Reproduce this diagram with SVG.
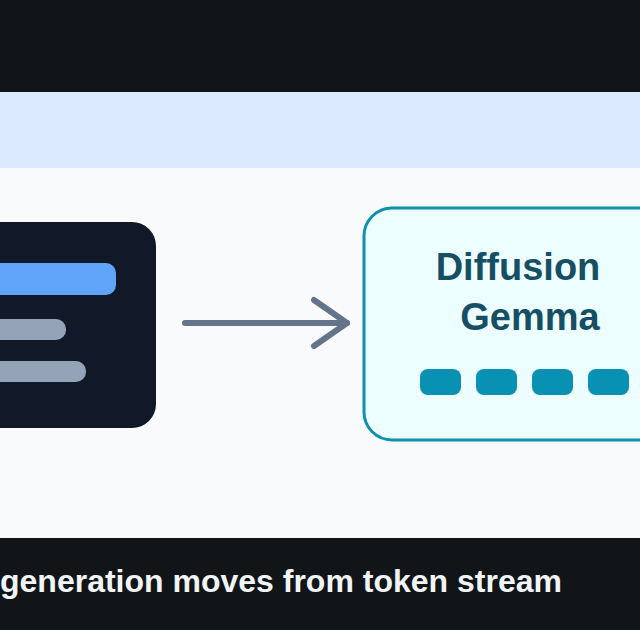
<svg xmlns="http://www.w3.org/2000/svg" width="640" height="630" viewBox="0 0 640 630">
<style>
.t{font-family:"Liberation Sans",Arial,sans-serif;font-weight:bold}
.tok{fill:#0891b2}
</style>
<rect x="0" y="0" width="640" height="92" fill="#111518"/>
<rect x="0" y="92" width="640" height="76" fill="#dbeafe"/>
<rect x="0" y="168" width="640" height="370" fill="#f8fafc"/>
<rect x="0" y="538" width="640" height="92" fill="#111518"/>
<g id="source">
<rect x="-40" y="222" width="196" height="206" rx="24" fill="#111827"/>
<rect x="-20" y="263" width="136" height="32" rx="10" fill="#60a5fa"/>
<rect x="-20" y="319" width="86" height="21" rx="10" fill="#94a3b8"/>
<rect x="-20" y="361" width="106" height="21" rx="10" fill="#94a3b8"/>
</g>
<g id="connectors" fill="none" stroke="#64748b" stroke-width="6" stroke-linecap="round" stroke-linejoin="round">
<line x1="185" y1="323" x2="347" y2="323"/>
<polyline points="314,300 347,323 314,346"/>
</g>
<g id="diffusion">
<rect x="364" y="208" width="310" height="232" rx="28" fill="#ecfeff" stroke="#0e91ab" stroke-width="3"/>
<text class="t" x="518" y="280" font-size="38" text-anchor="middle" fill="#164e63">Diffusion</text>
<text class="t" x="530" y="330" font-size="38" text-anchor="middle" fill="#164e63">Gemma</text>
<rect class="tok" x="420" y="369" width="41" height="26" rx="8"/>
<rect class="tok" x="476" y="369" width="41" height="26" rx="8"/>
<rect class="tok" x="532" y="369" width="41" height="26" rx="8"/>
<rect class="tok" x="588" y="369" width="41" height="26" rx="8"/>
</g>
<text class="t" x="0" y="592" font-size="32" fill="#f1f5f9">generation moves from token stream</text>
</svg>
